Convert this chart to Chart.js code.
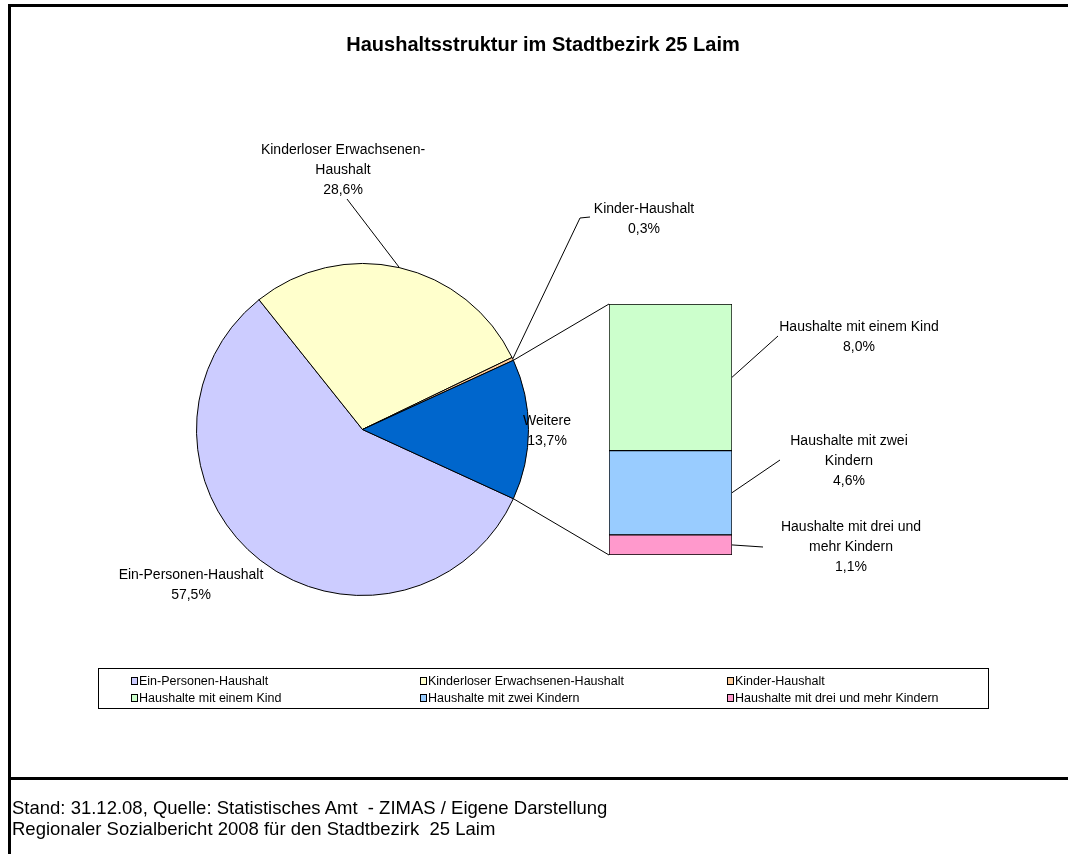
<!DOCTYPE html>
<html>
<head>
<meta charset="utf-8">
<title>Haushaltsstruktur im Stadtbezirk 25 Laim</title>
<script src="https://cdn.jsdelivr.net/npm/chart.js@4.4.1/dist/chart.umd.min.js"></script>
<style>
  html, body { margin: 0; padding: 0; background: #fff; }
  body { width: 1068px; height: 854px; position: relative; overflow: hidden; font-family: "Liberation Sans", Arial, sans-serif; }
  #frame { position: absolute; left: 8px; top: 4px; width: 1100px; height: 900px; border-left: 3px solid #000; border-top: 3px solid #000; }
  #divider { position: absolute; left: 8px; top: 777px; width: 1100px; border-top: 3px solid #000; }
  canvas { position: absolute; left: 0; top: 0; }
  #legend { position: absolute; left: 98px; top: 668px; width: 889px; height: 39px; border: 1px solid #000; font-size: 12.5px; color: #000; }
  #legend .item { position: absolute; white-space: nowrap; line-height: 14px; }
  #legend .sw { display: inline-block; width: 5px; height: 6px; border: 1px solid #000; margin-right: 1px; vertical-align: 0px; }
  #footer { position: absolute; left: 12px; top: 797px; font-size: 18.5px; line-height: 21px; white-space: pre; color: #000; }
</style>
</head>
<body>
<div id="frame"></div>
<div id="divider"></div>
<canvas id="pieChart" width="1068" height="854"></canvas>
<canvas id="barChart" width="1068" height="854"></canvas>
<div id="legend"></div>
<div id="footer">Stand: 31.12.08, Quelle: Statistisches Amt  - ZIMAS / Eigene Darstellung
Regionaler Sozialbericht 2008 für den Stadtbezirk  25 Laim</div>

<script>
// --- Data ---
const chartTitle = 'Haushaltsstruktur im Stadtbezirk 25 Laim';
const pieLabels = ['Ein-Personen-Haushalt', 'Kinderloser Erwachsenen-Haushalt', 'Kinder-Haushalt', 'Weitere'];
const pieValues = [57.5, 28.6, 0.3, 13.7];
const pieColors = ['#CCCCFF', '#FFFFCC', '#FFCC99', '#0066CC'];

const barLabels = ['Haushalte mit einem Kind', 'Haushalte mit zwei Kindern', 'Haushalte mit drei und mehr Kindern'];
const barValues = [8.0, 4.6, 1.1];
const barColors = ['#CCFFCC', '#99CCFF', '#FF99CC'];

// --- Label placement (layout only) ---
const pieLabelPos = [
    { x: 191, y: 575, maxWidth: 200 },
    { x: 343, y: 150, maxWidth: 175, leaderTo: [347, 199] },
    { x: 644, y: 209, maxWidth: 130, leaderTo: [590, 217], elbow: [580, 218] },
    { x: 547, y: 421, maxWidth: 80 }
];
const barLabelPos = [
    { x: 859, y: 327, maxWidth: 170, leaderTo: [778, 336] },
    { x: 849, y: 441, maxWidth: 135, leaderTo: [780, 460] },
    { x: 851, y: 527, maxWidth: 175, leaderTo: [763, 547] }
];

const LABEL_FONT = '14px "Liberation Sans", Arial, sans-serif';
const LINE_H = 20;

const fmt = v => v.toFixed(1).replace('.', ',') + '%';

function wrapText(ctx, text, maxWidth) {
    const parts = text.split(/(?<=[ -])/);
    const lines = [];
    let line = '';
    parts.forEach(p => {
        const test = line + p;
        if (line && ctx.measureText(test.trim()).width > maxWidth) {
            lines.push(line.trim());
            line = p;
        } else {
            line = test;
        }
    });
    if (line) lines.push(line.trim());
    return lines;
}

function drawLabel(ctx, text, value, pos) {
    const lines = wrapText(ctx, text, pos.maxWidth);
    lines.push(fmt(value));
    lines.forEach((l, i) => ctx.fillText(l, pos.x, pos.y + i * LINE_H));
}

function line(ctx, pts) {
    ctx.beginPath();
    ctx.moveTo(pts[0][0], pts[0][1]);
    for (let i = 1; i < pts.length; i++) ctx.lineTo(pts[i][0], pts[i][1]);
    ctx.stroke();
}

// --- Pie (rotated so "Weitere" sits centred on the right) ---
const total = pieValues.reduce((a, b) => a + b, 0);
const restIndex = pieLabels.indexOf('Weitere');
const pieRotation = 90 + (pieValues[restIndex] / total) * 360 / 2;

const pieChart = new Chart(document.getElementById('pieChart'), {
    type: 'pie',
    data: {
        labels: pieLabels,
        datasets: [{
            data: pieValues,
            backgroundColor: pieColors,
            borderColor: '#000',
            borderWidth: 1
        }]
    },
    options: {
        responsive: false,
        animation: false,
        rotation: pieRotation,
        layout: { padding: { left: 196, right: 539, top: 263, bottom: 258 } },
        plugins: { legend: { display: false }, tooltip: { enabled: false } }
    }
});

// --- Stacked bar for "Weitere" breakdown (bottom segment first) ---
const barOrder = [2, 1, 0];
const barSum = barValues.reduce((a, b) => a + b, 0);

const overlay = {
    id: 'overlay',
    afterDraw(chart) {
        const ctx = chart.ctx;
        ctx.save();
        ctx.fillStyle = '#000';
        ctx.strokeStyle = '#000';
        ctx.lineWidth = 1;

        // title
        ctx.font = 'bold 20px "Liberation Sans", Arial, sans-serif';
        ctx.textAlign = 'center';
        ctx.textBaseline = 'middle';
        ctx.fillText(chartTitle, 543, 45);

        // pie labels + leaders
        const arcs = pieChart.getDatasetMeta(0).data;
        ctx.font = LABEL_FONT;
        pieLabels.forEach((lab, i) => {
            const pos = pieLabelPos[i];
            drawLabel(ctx, lab, pieValues[i], pos);
            if (pos.leaderTo) {
                const a = arcs[i];
                const mid = (a.startAngle + a.endAngle) / 2;
                const start = [a.x + Math.cos(mid) * a.outerRadius, a.y + Math.sin(mid) * a.outerRadius];
                const pts = [start];
                if (pos.elbow) pts.push(pos.elbow);
                pts.push(pos.leaderTo);
                line(ctx, pts);
            }
        });

        // bar labels + leaders
        const segs = {};
        chart.data.datasets.forEach((ds, di) => {
            segs[ds.label] = chart.getDatasetMeta(di).data[0];
        });
        barLabels.forEach((lab, i) => {
            const pos = barLabelPos[i];
            const el = segs[lab];
            drawLabel(ctx, lab, barValues[i], pos);
            const right = el.x + el.width / 2;
            line(ctx, [[right, (el.y + el.base) / 2], pos.leaderTo]);
        });

        // connectors pie -> bar
        const rest = arcs[restIndex];
        const topEl = segs[barLabels[barOrder[barOrder.length - 1]]];
        const botEl = segs[barLabels[barOrder[0]]];
        const left = topEl.x - topEl.width / 2;
        const p1 = [rest.x + Math.cos(rest.startAngle) * rest.outerRadius, rest.y + Math.sin(rest.startAngle) * rest.outerRadius];
        const p2 = [rest.x + Math.cos(rest.endAngle) * rest.outerRadius, rest.y + Math.sin(rest.endAngle) * rest.outerRadius];
        line(ctx, [p1, [left, topEl.y]]);
        line(ctx, [p2, [left, botEl.base]]);

        ctx.restore();
    }
};

new Chart(document.getElementById('barChart'), {
    type: 'bar',
    data: {
        labels: [''],
        datasets: barOrder.map(i => ({
            label: barLabels[i],
            data: [barValues[i]],
            backgroundColor: barColors[i],
            borderColor: '#000',
            borderWidth: 1,
            borderSkipped: false,
            categoryPercentage: 1,
            barPercentage: 1
        }))
    },
    options: {
        responsive: false,
        animation: false,
        layout: { padding: { left: 609, right: 336, top: 304, bottom: 299 } },
        scales: {
            x: { display: false, stacked: true },
            y: { display: false, stacked: true, min: 0, max: barSum }
        },
        plugins: { legend: { display: false }, tooltip: { enabled: false } }
    },
    plugins: [overlay]
});

// --- Legend (Excel style, 3 columns) ---
const legendItems = pieLabels.slice(0, restIndex).map((l, i) => ({ label: l, color: pieColors[i] }))
    .concat(barLabels.map((l, i) => ({ label: l, color: barColors[i] })));
const legendCols = [32, 321, 628];
const legendRows = [5, 22];
const legendEl = document.getElementById('legend');
legendItems.forEach((it, i) => {
    const d = document.createElement('div');
    d.className = 'item';
    d.style.left = legendCols[i % 3] + 'px';
    d.style.top = legendRows[Math.floor(i / 3)] + 'px';
    d.innerHTML = `<span class="sw" style="background:${it.color}"></span>${it.label}`;
    legendEl.appendChild(d);
});
</script>
</body>
</html>
